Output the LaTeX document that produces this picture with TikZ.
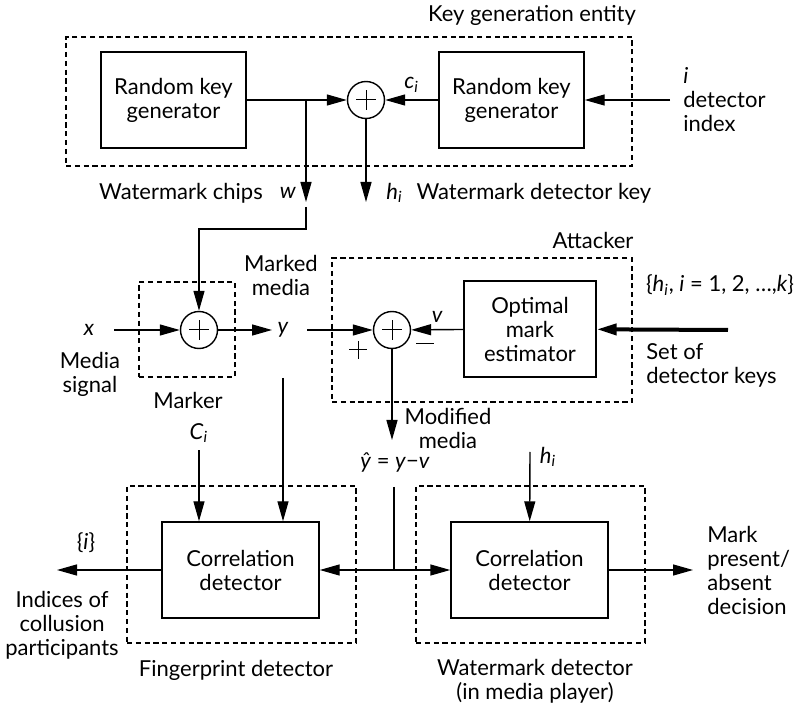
\documentclass[tikz,border=0pt]{standalone}
\usepackage{fontspec}
\setmainfont{Lato}
\usetikzlibrary{arrows.meta}
\newcommand\varsub[2]{\textit{#1}\textsubscript{\textit{#2}}}

\begin{document}
\begin{tikzpicture}[x=0.5pt,y=-0.5pt,line width=0.7pt,
  >={Triangle[length=10pt,width=5.5pt]},
  font=\fontsize{11}{12}\selectfont,
  block/.style={draw,minimum width=#1,minimum height=48pt,align=center,inner sep=0pt},
  block/.default=72.5pt,
  adder/.style={draw,circle,minimum size=18.5pt,inner sep=0pt,
    path picture={\draw[line width=0.5pt]
      ([xshift=-5pt]path picture bounding box.center) -- ([xshift=5pt]path picture bounding box.center)
      ([yshift=-5pt]path picture bounding box.center) -- ([yshift=5pt]path picture bounding box.center);}},
  group/.style={draw,line width=0.6pt,dash pattern=on 2.6pt off 1.8pt,inner sep=0pt},
  plussign/.style={minimum size=9pt,inner sep=0pt,
    path picture={\draw[line width=0.5pt]
      (path picture bounding box.west) -- (path picture bounding box.east)
      (path picture bounding box.north) -- (path picture bounding box.south);}},
  minussign/.style={minimum width=9pt,minimum height=2pt,inner sep=0pt,
    path picture={\draw[line width=0.5pt]
      (path picture bounding box.west) -- (path picture bounding box.east);}}]
  \useasboundingbox (0,0) rectangle (800,706);

  \node[group,minimum width=283pt,minimum height=64.5pt] (keygen) at (349,101.5) {};
  \node (keygenlabel) at (532,15) {Key generation entity};
  \node[block] (rkgA) at (173.5,100) {Random key\\generator};
  \node[adder] (sumK) at (366,100) {};
  \node[block] (rkgB) at (511.5,100) {Random key\\generator};
  \coordinate (idx) at (670,100);
  \node[anchor=west,align=left] (idxlabel) at (676,100) {\textit{i}\\detector\\index};
  \draw[->] (idx) -- (rkgB);
  \draw[->] (rkgB) -- node[above] (cilabel) {\varsub{c}{i}} (sumK);
  \coordinate (wsplit) at (306,100);
  \coordinate (wtip) at (306,202);
  \coordinate (wtail) at (306,207);
  \coordinate (hitip) at (366,202);
  \draw (rkgA) -- (wsplit);
  \draw[->] (wsplit) -- (sumK);
  \draw[->] (wsplit) -- (wtip);
  \draw[->] (sumK) -- (hitip);
  \node (chips) at (181,193) {Watermark chips};
  \node (wlabel) at (288,193) {\textit{w}};
  \node[anchor=west] (hilabel) at (379,193) {\varsub{h}{i}\hspace{7pt}Watermark detector key};

  \node[group,minimum width=48pt,minimum height=47.5pt] (marker) at (187,329.5) {};
  \node (markerlabel) at (188,400) {Marker};
  \node[adder] (sumM) at (199,330) {};
  \draw[->] (wtail) -- ++(0,22) -| (sumM);
  \node (xlabel) at (89,330) {\textit{x}};
  \node[align=center] (medialabel) at (90,374) {Media\\signal};
  \coordinate (xin) at (114,330);
  \draw[->] (xin) -- (sumM);
  \node (ylabel) at (283,330) {\textit{y}};
  \node[align=center] (markedlabel) at (281,275) {Marked\\media};
  \coordinate (yin) at (272,330);
  \coordinate (yout) at (307,330);
  \draw[->] (sumM) -- (yin);

  \node[group,minimum width=150pt,minimum height=72pt] (attacker) at (482,330) {};
  \node (attackerlabel) at (593,240) {Attacker};
  \node[adder] (sumA) at (392,330) {};
  \node[plussign] (plus) at (358,350) {};
  \node[minussign] (minus) at (425,344) {};
  \node[block=66pt] (ome) at (530,329) {Optimal\\mark\\estimator};
  \draw[->] (yout) -- (sumA);
  \draw[->] (ome) -- node[above] (vlabel) {\textit{v}} (sumA);
  \coordinate (keyset) at (728,330);
  \draw[->,line width=2pt] (keyset) -- (ome);
  \node (keysetlabel) at (720,285) {\{\varsub{h}{i}, \textit{i} = 1, 2, …,\textit{k}\}};
  \node[anchor=west,align=left] (keysetname) at (639,365) {Set of\\detector keys};
  \coordinate (yhattip) at (392,440);
  \draw[->] (sumA) -- (yhattip);
  \node[align=center] (modlabel) at (448,428) {Modified\\media};
  \node (yhat) at (395,463) {\textit{ŷ} = \textit{y}−\textit{v}};

  \node[group,minimum width=114.5pt,minimum height=78.5pt] (fpgroup) at (241.5,564.5) {};
  \node (fplabel) at (236,670) {Fingerprint detector};
  \node[block=78.5pt] (fp) at (240.5,570) {Correlation\\detector};
  \node[group,minimum width=114.5pt,minimum height=78.5pt] (wmgroup) at (530.5,564.5) {};
  \node[align=center] (wmlabel) at (535,681) {Watermark detector\\(in media player)};
  \node[block=78.5pt] (wm) at (529.5,570) {Correlation\\detector};
  \coordinate (yhattail) at (394,487);
  \coordinate (junc) at (394,570);
  \draw (yhattail) -- (junc);
  \draw[->] (junc) -- (fp);
  \draw[->] (junc) -- (wm);
  \node (cilabelB) at (199,433) {\varsub{C}{i}};
  \draw[->] (cilabelB) -- (cilabelB |- fp.north);
  \coordinate (ydown) at (283,378);
  \draw[->] (ydown) -- (ydown |- fp.north);
  \coordinate (fpout) at (57,570);
  \draw[->] (fp) -- (fpout);
  \node (setlabel) at (86,543) {\{\textit{i}\}};
  \node[align=center] (indiceslabel) at (62,625) {Indices of\\collusion\\participants};
  \coordinate (hiin) at (530,452);
  \node (hilabelB) at (548,457) {\varsub{h}{i}};
  \draw[->] (hiin) -- (wm);
  \coordinate (wmout) at (693,570);
  \draw[->] (wm) -- (wmout);
  \node[anchor=west,align=left] (decisionlabel) at (700,570) {Mark\\present/\\absent\\decision};
\end{tikzpicture}
\end{document}
